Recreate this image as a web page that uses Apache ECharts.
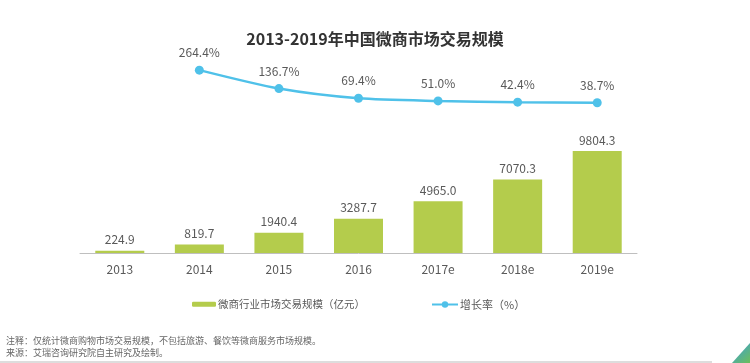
<!DOCTYPE html>
<html>
<head>
<meta charset="utf-8">
<script src="https://cdn.jsdelivr.net/npm/echarts@6/dist/echarts.min.js"></script>
<style>html,body{margin:0;padding:0;background:#fff}#c{width:750px;height:363px}</style>
</head>
<body>
<div id="c"></div>
<script>
const categories = ['2013', '2014', '2015', '2016', '2017e', '2018e', '2019e'];
const scaleValues = [224.9, 819.7, 1940.4, 3287.7, 4965.0, 7070.3, 9804.3];
const growthValues = ['-', 264.4, 136.7, 69.4, 51.0, 42.4, 38.7];
const seriesNames = ['微商行业市场交易规模（亿元）', '增长率（%）'];
const titleText = '2013-2019年中国微商市场交易规模';
const notes = ['注释：仅统计微商购物市场交易规模，不包括旅游、餐饮等微商服务市场规模。', '来源：艾瑞咨询研究院自主研究及绘制。'];

const FONT = '"Noto Sans CJK SC", "Noto Sans", sans-serif';
const chart = echarts.init(document.getElementById('c'), null, {renderer: 'canvas'});
chart.setOption({
  animation: false,
  backgroundColor: '#fff',
  textStyle: {fontFamily: FONT},
  title: {
    text: titleText, left: 'center', top: 26,
    textStyle: {fontSize: 16, fontWeight: 'bold', color: '#333', fontFamily: FONT}
  },
  legend: [
    {data: [seriesNames[0]], left: 187, top: 294, itemWidth: 24, itemHeight: 5, itemGap: 4,
     textStyle: {fontSize: 10.5, color: '#595959', fontFamily: FONT, padding: [0, 0, 0, -3]}},
    {data: [seriesNames[1]], left: 426, top: 294, itemWidth: 26, itemHeight: 8,
     textStyle: {fontSize: 11, color: '#595959', fontFamily: FONT, padding: [0, 0, 0, -3]}}
  ],
  grid: [
    {left: 80, right: 113, top: 45, bottom: 110},
    {left: 80, right: 113, top: 65, bottom: 254.7}
  ],
  xAxis: [
    {type: 'category', gridIndex: 0, data: categories,
     axisLine: {lineStyle: {color: '#bfbfbf', width: 1}}, axisTick: {show: false},
     axisLabel: {color: '#595959', fontSize: 12, margin: 10, fontFamily: FONT}},
    {type: 'category', gridIndex: 1, data: categories, show: false}
  ],
  yAxis: [
    {type: 'value', gridIndex: 0, min: 0, max: 20000, show: false, splitLine: {show: false}},
    {type: 'value', gridIndex: 1, min: 0, max: 300, show: false, splitLine: {show: false}}
  ],
  series: [
    {name: seriesNames[0], type: 'bar', xAxisIndex: 0, yAxisIndex: 0, data: scaleValues,
     barWidth: 49, itemStyle: {color: '#b4cc4c'},
     label: {show: true, position: 'top', distance: 5, color: '#595959', fontSize: 12, fontFamily: FONT,
             formatter: p => p.value.toFixed(1)}},
    {name: seriesNames[1], type: 'line', xAxisIndex: 1, yAxisIndex: 1, data: growthValues,
     symbol: 'circle', symbolSize: 9, smooth: 0.25,
     lineStyle: {color: '#4fc1e9', width: 2.5}, itemStyle: {color: '#4fc1e9'},
     label: {show: true, position: 'top', distance: 7, color: '#595959', fontSize: 12, fontFamily: FONT,
             formatter: p => p.value.toFixed(1) + '%'}}
  ],
  graphic: [
    {type: 'text', left: 6, top: 336, style: {text: notes[0], fontSize: 9, fill: '#666', fontFamily: FONT}},
    {type: 'text', left: 6, top: 348, style: {text: notes[1], fontSize: 9, fill: '#666', fontFamily: FONT}},
    {type: 'line', shape: {x1: 0, y1: 362, x2: 712, y2: 362}, style: {stroke: '#bbb', lineWidth: 1}},
    {type: 'polygon', shape: {points: [[732, 363], [750, 343], [750, 363]]},
     style: {fill: new echarts.graphic.LinearGradient(0, 0, 1, 1, [{offset: 0, color: '#3a9de0'}, {offset: 1, color: '#6cbf5a'}])}}
  ]
});
</script>
</body>
</html>
